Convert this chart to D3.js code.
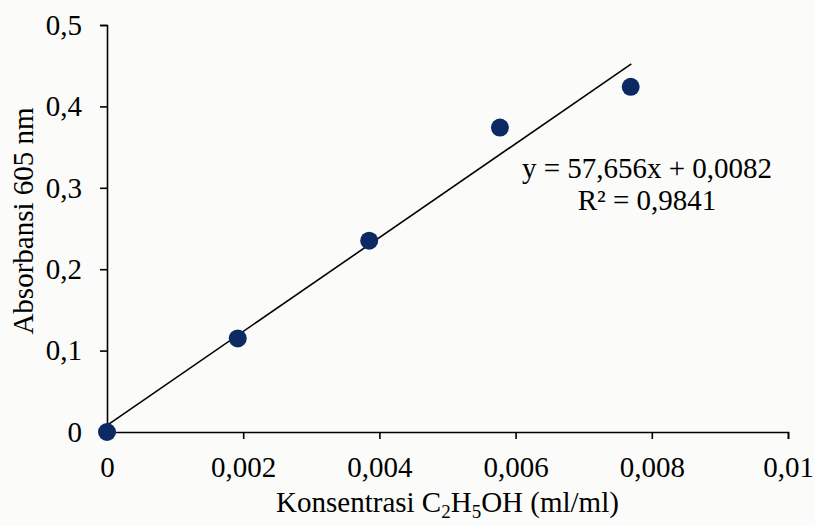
<!DOCTYPE html>
<html>
<head>
<meta charset="utf-8">
<script src="https://cdn.jsdelivr.net/npm/d3@7"></script>
<style>
  html, body { margin: 0; padding: 0; background: #fbfcf9; overflow: hidden; }
  svg { display: block; }
  text { font-family: "Liberation Serif", "Times New Roman", serif; fill: #000; }
</style>
</head>
<body>
<div id="chart"></div>
<script>
// measured points
const concentration = [0, 0.00192, 0.00385, 0.00577, 0.00769];
const absorbance = [0, 0.115, 0.235, 0.374, 0.424];
const xTicks = [0, 0.002, 0.004, 0.006, 0.008, 0.01];
const yTicks = [0, 0.1, 0.2, 0.3, 0.4, 0.5];
// linear trendline
const slope = 57.656;
const intercept = 0.0082;
const trendRange = [0, 0.0077];
const equationLines = ["y = 57,656x + 0,0082", "R² = 0,9841"];

const width = 815, height = 525;
const padding = { top: 25, right: 27, bottom: 93, left: 107 };
const innerWidth = width - padding.left - padding.right;
const innerHeight = height - padding.top - padding.bottom;
const fontSize = 29;

const svg = d3.select("#chart").append("svg")
  .attr("width", width)
  .attr("height", height);

const g = svg.append("g")
  .attr("transform", `translate(${padding.left}, ${padding.top})`);

const x = d3.scaleLinear().domain([0, 0.01]).range([0, innerWidth]);
const y = d3.scaleLinear().domain([0, 0.5]).range([innerHeight, 0]);

const fmt = (d) => (d === 0 ? "0" : String(+d.toFixed(4)).replace(".", ","));

// axes
const xAxis = g.append("g")
  .attr("transform", `translate(0, ${innerHeight})`)
  .call(d3.axisBottom(x).tickValues(xTicks).tickFormat(fmt).tickSize(7).tickSizeOuter(7).tickPadding(17));
const yAxis = g.append("g")
  .call(d3.axisLeft(y).tickValues(yTicks).tickFormat(fmt).tickSize(7).tickSizeOuter(7).tickPadding(18));

[xAxis, yAxis].forEach((a) => {
  a.attr("font-family", null).attr("font-size", null);
  a.selectAll("path, line").attr("stroke", "#000").attr("stroke-width", 1.6);
  a.selectAll("text").attr("font-size", fontSize).attr("fill", "#000");
});

// trendline
g.append("line")
  .attr("x1", x(trendRange[0]))
  .attr("y1", y(slope * trendRange[0] + intercept))
  .attr("x2", x(trendRange[1]))
  .attr("y2", y(slope * trendRange[1] + intercept))
  .attr("stroke", "#000")
  .attr("stroke-width", 1.6);

// points
g.selectAll("circle.pt")
  .data(concentration.map((c, i) => ({ x: c, y: absorbance[i] })))
  .join("circle")
  .attr("class", "pt")
  .attr("cx", (d) => x(d.x))
  .attr("cy", (d) => y(d.y))
  .attr("r", 9)
  .attr("fill", "#0b2a63");

// equation label
const eq = g.append("text")
  .attr("text-anchor", "middle")
  .attr("font-size", fontSize);
equationLines.forEach((t, i) => {
  eq.append("tspan")
    .attr("x", 540)
    .attr("y", 153 + i * 32)
    .text(t);
});

// y axis title
svg.append("text")
  .attr("transform", `translate(33, 221) rotate(-90)`)
  .attr("text-anchor", "middle")
  .attr("font-size", fontSize)
  .text("Absorbansi 605 nm");

// x axis title with subscripts
const xt = svg.append("text")
  .attr("x", padding.left + innerWidth / 2)
  .attr("y", 512)
  .attr("text-anchor", "middle")
  .attr("font-size", fontSize);
xt.append("tspan").text("Konsentrasi C");
xt.append("tspan").attr("font-size", 19).attr("dy", 6).text("2");
xt.append("tspan").attr("dy", -6).text("H");
xt.append("tspan").attr("font-size", 19).attr("dy", 6).text("5");
xt.append("tspan").attr("dy", -6).text("OH (ml/ml)");
</script>
</body>
</html>
